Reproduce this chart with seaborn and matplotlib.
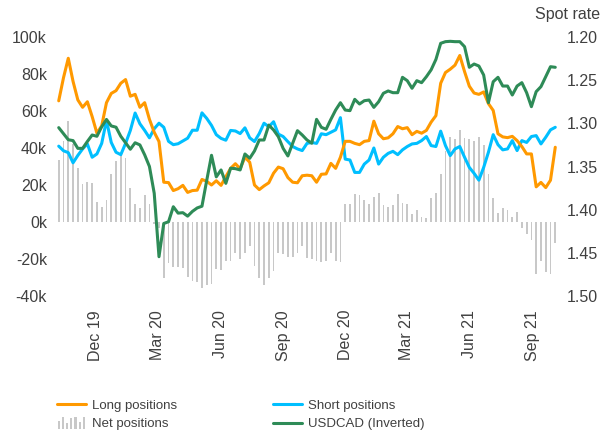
import numpy as np
import pandas as pd
import matplotlib
matplotlib.use("Agg")
import matplotlib.pyplot as plt
import seaborn as sns
from matplotlib.lines import Line2D
from matplotlib.patches import Rectangle
from matplotlib.legend_handler import HandlerBase

sns.set_theme(style="white")
plt.rcParams["font.family"] = ["Liberation Sans", "DejaVu Sans"]

# ---------------- data ----------------
dates = pd.date_range("2019-10-08", periods=105, freq="7D")

long_pos = [65.5, 78, 88.5, 76, 66, 62, 65, 57, 48, 52,
            64.5, 69.5, 71, 75, 77, 68, 69, 62, 64.5, 55.5,
            48.5, 43.5, 21.5, 21.3, 17, 18, 19.8, 16, 17, 17.2,
            23, 22, 20, 22.3, 19.8, 24.5, 29, 31.5, 28.8, 35,
            32.3, 20, 17.5, 19.5, 21.2, 26.4, 29.7, 28.8, 24, 21.5,
            21.2, 25, 25.3, 25, 21.5, 25.8, 26, 31.7, 29, 35,
            43.6, 43.6, 42.5, 41.8, 43.6, 44, 54.5, 47.7, 45, 45.5,
            47.7, 51.6, 50.4, 51, 47.2, 49, 48, 49.5, 54, 57.5,
            75, 80.8, 82.6, 84.8, 90, 81.3, 73.4, 69.7, 69, 70.3,
            64, 60.3, 47.7, 46, 45.6, 46.3, 44, 40.8, 36.8, 36.8,
            19, 21.4, 18.6, 22.6, 40.4]

short_pos = [41, 38.5, 37.5, 32, 36, 39.5, 42.2, 35, 36.8, 42.5,
             54.9, 43, 37.7, 36.4, 42.5, 49.5, 58.9, 53.1, 49.5, 45.5,
             50.4, 53.4, 51.2, 43.6, 41.8, 42.3, 43.8, 45.3, 49.6, 49.6,
             59, 56, 52.2, 47.2, 45.2, 44.2, 49.5, 49.2, 47.8, 50.9,
             45.5, 43.5, 47.8, 53.4, 51.5, 54.2, 47.5, 46.2, 43.4, 40.8,
             39.5, 38.6, 42.5, 43, 42.5, 47.7, 47.2, 48.5, 49.8, 56.4,
             34, 33.5, 26.8, 26.8, 31.3, 33.5, 40, 31.3, 35, 37.1,
             38.2, 36.4, 39, 40.8, 42.2, 42.5, 44, 46.2, 41.3, 40.8,
             49.1, 41.3, 35.9, 39.5, 40.8, 35, 29.5, 26.3, 22.6, 29.5,
             37.7, 47.2, 41.8, 39, 39.5, 44, 38.6, 44, 43, 46.2,
             46.7, 42.2, 45.8, 49.8, 51.2]

net_pos = [33.5, 44, 54.5, 42, 29, 20.5, 21.5, 21, 11, 8,
           12, 26, 33, 37, 34.5, 18.5, 9.5, 7.5, 14.5, 10,
           -1, -3, -30, -22, -24.5, -24.5, -25, -29.5, -32, -32.5,
           -35.5, -34, -33.5, -25.5, -26, -21, -21, -16.5, -20, -16.5,
           -13, -24, -30, -34, -30, -26.5, -16.5, -17.5, -19, -19,
           -17, -13, -19.5, -20, -21, -21.5, -21, -17, -21, -21.5,
           10, 10, 15, 14.5, 12, 10, 13.5, 15.5, 9, 8,
           9, 15, 10.5, 10, 4.5, 6.5, 2.5, 2, 13, 15.5,
           26, 38.5, 46, 45, 49.5, 45.5, 45, 44, 46, 41.5,
           26, 13, 5, 7.5, 6.5, 2.5, 5.5, -3, -6.5, -9.5,
           -28, -21, -27, -28, -11.5]

usdcad = [1.305, 1.312, 1.319, 1.320, 1.329, 1.329, 1.321, 1.3135, 1.315, 1.304,
          1.2955, 1.303, 1.3045, 1.315, 1.3225, 1.330, 1.3225, 1.325, 1.3365, 1.350,
          1.381, 1.4545, 1.416, 1.414, 1.3966, 1.404, 1.4035, 1.4075, 1.402, 1.398,
          1.396, 1.366, 1.337, 1.362, 1.354, 1.3695, 1.352, 1.3525, 1.354, 1.3355,
          1.3405, 1.332, 1.3193, 1.3193, 1.302, 1.3077, 1.3155, 1.329, 1.3378, 1.3231,
          1.3085, 1.3135, 1.3193, 1.3231, 1.2954, 1.3046, 1.3069, 1.2954, 1.2846, 1.2761,
          1.2846, 1.2853, 1.2722, 1.2776, 1.2738, 1.273, 1.2815, 1.275, 1.2652, 1.2625,
          1.2645, 1.2645, 1.2467, 1.2506, 1.2594, 1.2506, 1.2529, 1.246, 1.238, 1.226,
          1.2073, 1.2054, 1.205, 1.2054, 1.2054, 1.2112, 1.2351, 1.2313, 1.2336, 1.244,
          1.2761, 1.2518, 1.2467, 1.2568, 1.2568, 1.2672, 1.2568, 1.2529, 1.2645, 1.2807,
          1.2633, 1.2575, 1.246, 1.2344, 1.2351]

left_ticks = [-40000, -20000, 0, 20000, 40000, 60000, 80000, 100000]
left_labels = ["-40k", "-20k", "0k", "20k", "40k", "60k", "80k", "100k"]
right_ticks = [1.20, 1.25, 1.30, 1.35, 1.40, 1.45, 1.50]
right_labels = ["1.20", "1.25", "1.30", "1.35", "1.40", "1.45", "1.50"]
x_tick_dates = ["2019-12-01", "2020-03-01", "2020-06-01", "2020-09-01",
                "2020-12-01", "2021-03-01", "2021-06-01", "2021-09-01"]
x_tick_labels = ["Dec 19", "Mar 20", "Jun 20", "Sep 20",
                 "Dec 20", "Mar 21", "Jun 21", "Sep 21"]

df = pd.DataFrame({
    "date": dates,
    "long": np.array(long_pos) * 1000,
    "short": np.array(short_pos) * 1000,
    "net": np.array(net_pos) * 1000,
    "usdcad": usdcad,
})

# ---------------- style ----------------
C_LONG = "#FF9900"
C_SHORT = "#00BFFF"
C_NET = "#C8C8C8"
C_FX = "#2E8B57"
TXT = "#404040"
FS = 11.5

fig = plt.figure(figsize=(6.02, 4.36), dpi=100)
ax = fig.add_axes([56 / 602, 1 - 296 / 436, (558 - 56) / 602, (296 - 37) / 436])

ax.bar(df["date"], df["net"], width=2.6, color=C_NET, zorder=1, linewidth=0)
sns.lineplot(data=df, x="date", y="short", ax=ax, color=C_SHORT, lw=2.2, zorder=3)
sns.lineplot(data=df, x="date", y="long", ax=ax, color=C_LONG, lw=2.2, zorder=4)

ax2 = ax.twinx()
sns.lineplot(data=df, x="date", y="usdcad", ax=ax2, color=C_FX, lw=2.2)

ax.set_ylim(-40000, 100000)
ax2.set_ylim(1.50, 1.20)
ax.set_xlim(dates[0] - pd.Timedelta(days=4), dates[-1] + pd.Timedelta(days=4))

ax.set_yticks(left_ticks)
ax.set_yticklabels(left_labels)
ax2.set_yticks(right_ticks)
ax2.set_yticklabels(right_labels)
ax.set_xticks(pd.to_datetime(x_tick_dates))
ax.set_xticklabels(x_tick_labels, rotation=90)

for a in (ax, ax2):
    a.set_xlabel("")
    a.set_ylabel("")
    for s in a.spines.values():
        s.set_visible(False)
    a.grid(False)
ax.tick_params(axis="y", length=0, pad=6.5, labelsize=FS, colors=TXT)
ax.tick_params(axis="x", length=0, pad=10, labelsize=FS, colors=TXT)
ax2.tick_params(axis="y", length=0, pad=6.5, labelsize=FS, colors=TXT)

fig.text(600 / 602, 1 - 15 / 436, "Spot rate", ha="right", va="center",
         fontsize=FS, color=TXT)


# ---------------- legend ----------------
class BarsHandler(HandlerBase):
    def create_artists(self, legend, orig_handle, xdescent, ydescent,
                       width, height, fontsize, trans):
        hs = [0.6, 1.0, 0.5, 0.9, 1.0, 0.55, 1.0]
        n = len(hs)
        arts = []
        for k, h in enumerate(hs):
            x = -xdescent + (k + 0.5) * width / n
            r = Rectangle((x - 0.75, -ydescent - 0.15 * height), 1.5, h * height * 1.3,
                          transform=trans, facecolor=C_NET, edgecolor="none")
            arts.append(r)
        return arts


h_long = Line2D([], [], color=C_LONG, lw=2.2)
h_short = Line2D([], [], color=C_SHORT, lw=2.2)
h_fx = Line2D([], [], color=C_FX, lw=2.2)
h_net = Rectangle((0, 0), 1, 1, facecolor=C_NET)

leg = fig.legend([h_long, h_net, h_short, h_fx],
                 ["Long positions", "Net positions", "Short positions", "USDCAD (Inverted)"],
                 loc="upper left", bbox_to_anchor=(45 / 602, 1 - 388 / 436),
                 ncol=2, frameon=False, fontsize=9.5, handlelength=2.2,
                 handletextpad=0.45, columnspacing=7.3, labelspacing=0.45,
                 handler_map={Rectangle: BarsHandler()})
for t in leg.get_texts():
    t.set_color(TXT)

fig.savefig("out.png", dpi=100)
